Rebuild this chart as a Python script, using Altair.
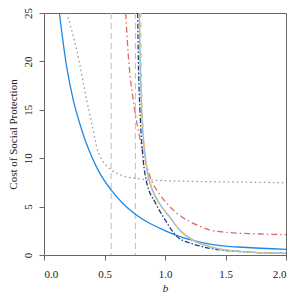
import altair as alt
import pandas as pd

# ---- data ----
blue_b = [0.127, 0.187, 0.242, 0.30, 0.339, 0.40, 0.463, 0.556, 0.65, 0.755, 0.876, 0.986, 1.10, 1.23, 1.37, 1.50, 1.645, 2.0]
blue_v = [25.0, 19.45, 16.0, 13.4, 11.9, 10.0, 8.4, 6.7, 5.35, 4.2, 3.25, 2.6, 2.0, 1.5, 1.12, 0.92, 0.8, 0.59]

grey_b = [0.187, 0.27, 0.353, 0.40, 0.435, 0.47, 0.51, 0.556, 0.65, 0.755, 0.876, 1.0, 1.25, 1.5, 2.0]
grey_v = [25.0, 21.2, 16.0, 13.3, 11.2, 10.0, 9.3, 8.78, 8.2, 7.92, 7.75, 7.68, 7.6, 7.55, 7.47]

red_b = [0.675, 0.70, 0.74, 0.785, 0.835, 0.876, 0.96, 1.01, 1.12, 1.23, 1.37, 1.51, 1.785, 2.0]
red_v = [25.0, 20.1, 15.8, 12.5, 9.8, 8.1, 6.2, 5.4, 4.1, 3.3, 2.6, 2.34, 2.17, 2.1]

navy_b = [0.774, 0.78, 0.793, 0.82, 0.845, 0.92, 0.985, 1.10, 1.23, 1.37, 1.645, 2.0]
navy_v = [25.0, 20.0, 15.0, 9.8, 7.7, 5.4, 3.96, 1.9, 1.15, 0.69, 0.34, 0.17]

lblue_b = [0.788, 0.795, 0.807, 0.84, 0.862, 0.90, 0.96, 1.04, 1.12, 1.23, 1.37, 1.645, 2.0]
lblue_v = [25.0, 20.0, 15.0, 9.8, 8.1, 6.6, 5.2, 3.9, 2.6, 1.55, 0.86, 0.34, 0.17]

yellow_b = [0.80, 0.803, 0.812, 0.843, 0.864, 0.90, 0.96, 1.04, 1.12, 1.23, 1.37, 1.645, 2.0]
yellow_v = [25.0, 20.0, 15.0, 9.8, 8.1, 6.6, 5.2, 3.9, 2.6, 1.55, 0.86, 0.34, 0.17]

vlines = [0.555, 0.755]

x_ticks = [0, 0.5, 1.0, 1.5, 2.0]
y_ticks = [0, 5, 10, 15, 20, 25]

FONT = "Liberation Serif"

xscale = alt.Scale(domain=[0, 2], nice=False, zero=False)
yscale = alt.Scale(domain=[0, 25], nice=False)

xaxis = alt.Axis(values=x_ticks, format=".1f", title="b", tickSize=5, labelPadding=8,
                 titleFontStyle="italic", titlePadding=3, grid=False)
yaxis = alt.Axis(values=y_ticks, format="d", title="Cost of Social Protection", tickSize=5,
                 labelAngle=270, labelAlign="center", labelBaseline="bottom", labelPadding=6,
                 titlePadding=4, grid=False)


def curve(bs, vs, color, dash=None, width=1.3):
    df = pd.DataFrame({"b": bs, "v": vs})
    kw = dict(color=color, strokeWidth=width, interpolate="monotone", clip=True)
    if dash:
        kw["strokeDash"] = dash
    return alt.Chart(df).mark_line(**kw).encode(
        x=alt.X("b:Q", scale=xscale, axis=xaxis),
        y=alt.Y("v:Q", scale=yscale, axis=yaxis),
    )


vl = alt.Chart(pd.DataFrame({"b": vlines})).mark_rule(
    color="#bbbbbb", strokeDash=[6, 4], strokeWidth=1
).encode(x=alt.X("b:Q", scale=xscale, axis=xaxis))

layers = [
    vl,
    curve(grey_b, grey_v, "#999999", [1.5, 3]),
    curve(blue_b, blue_v, "#1E88E5"),
    curve(red_b, red_v, "#E06A6A", [6, 3, 1.5, 3]),
    curve(navy_b, navy_v, "#1F3F6A", [5, 2, 1.5, 2]),
    curve(lblue_b, lblue_v, "#90C0E8", None, 1.6),
    curve(yellow_b, yellow_v, "#F5C542", [4, 6], 1.3),
]

chart = alt.layer(*layers).properties(
    width=242, height=242,
    autosize="none",
    padding={"left": 36, "top": 5, "right": 6, "bottom": 40},
).configure_view(
    stroke="#666666", strokeWidth=1
).configure_axis(
    labelFont=FONT, titleFont=FONT, labelFontSize=11, titleFontSize=11,
    titleFontWeight="normal", labelColor="#222222", titleColor="#222222",
    domainColor="#666666", tickColor="#666666", domainWidth=1, tickWidth=1,
)

chart.save("out.html", embed_options={"renderer": "svg", "actions": False})
